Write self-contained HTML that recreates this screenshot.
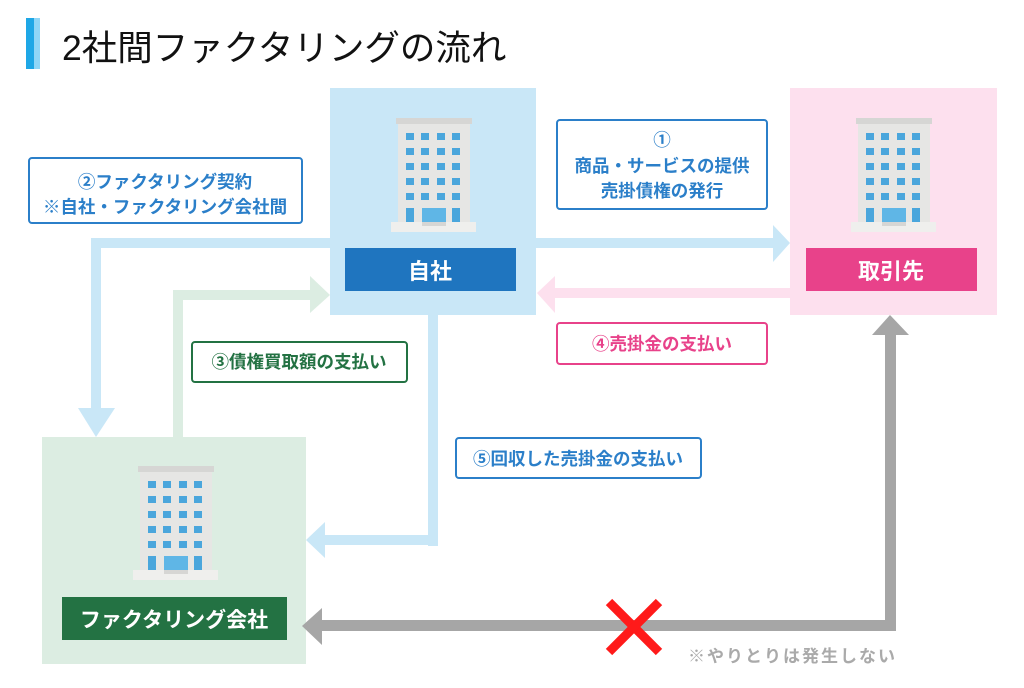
<!DOCTYPE html>
<html><head><meta charset="utf-8"><style>
html,body{margin:0;padding:0;background:#fff;}
svg text{font-family:"Liberation Sans","Noto Sans CJK JP",sans-serif;font-weight:bold;}
</style></head><body>
<svg width="1024" height="683" viewBox="0 0 1024 683" xmlns="http://www.w3.org/2000/svg">
<defs>
<g id="bld">
 <rect x="5" y="0" width="76" height="6" fill="#d6d6d4"/>
 <rect x="7" y="6" width="72" height="102" fill="#e6e6e4"/>
 <rect x="0" y="104" width="85" height="10" fill="#efefed"/>
 <g fill="#4aa6dc">
  <rect x="15" y="15" width="8" height="7"/><rect x="30" y="15" width="8" height="7"/><rect x="46" y="15" width="8" height="7"/><rect x="61" y="15" width="8" height="7"/>
  <rect x="15" y="30" width="8" height="7"/><rect x="30" y="30" width="8" height="7"/><rect x="46" y="30" width="8" height="7"/><rect x="61" y="30" width="8" height="7"/>
  <rect x="15" y="45" width="8" height="7"/><rect x="30" y="45" width="8" height="7"/><rect x="46" y="45" width="8" height="7"/><rect x="61" y="45" width="8" height="7"/>
  <rect x="15" y="60" width="8" height="7"/><rect x="30" y="60" width="8" height="7"/><rect x="46" y="60" width="8" height="7"/><rect x="61" y="60" width="8" height="7"/>
  <rect x="15" y="75" width="8" height="7"/><rect x="30" y="75" width="8" height="7"/><rect x="46" y="75" width="8" height="7"/><rect x="61" y="75" width="8" height="7"/>
  <rect x="15" y="90" width="8" height="14"/><rect x="61" y="90" width="8" height="14"/>
  <rect x="31" y="90" width="24" height="14" fill="#5fb6e6"/>
 </g>
 <rect x="31" y="104" width="24" height="4" fill="#d6d6d4"/>
</g>
</defs>

<rect x="26" y="18" width="8" height="51" fill="#1ea7e6"/>
<rect x="34" y="18" width="6" height="51" fill="#8fd6f7"/>
<text x="62" y="60" font-size="35.5" style="font-weight:normal" fill="#111">2社間ファクタリングの流れ</text>

<rect x="330" y="88" width="206" height="227" fill="#c9e7f7"/>
<rect x="790" y="88" width="207" height="227" fill="#fde0ee"/>
<rect x="42" y="437" width="264" height="227" fill="#dcede2"/>

<rect x="91" y="238" width="239" height="10" fill="#c9e7f7"/>
<rect x="91" y="238" width="10" height="172" fill="#c9e7f7"/>
<polygon points="78,408 115,408 96,437" fill="#c9e7f7"/>
<rect x="536" y="238" width="240" height="10" fill="#c9e7f7"/>
<polygon points="773,225 790,243 773,262" fill="#c9e7f7"/>
<rect x="173" y="290" width="10" height="147" fill="#dcede2"/>
<rect x="173" y="290" width="140" height="10" fill="#dcede2"/>
<polygon points="310,276 330,295 310,313" fill="#dcede2"/>
<rect x="553" y="288" width="237" height="10" fill="#fde0ee"/>
<polygon points="555,276 537,293 555,313" fill="#fde0ee"/>
<rect x="428" y="315" width="10" height="231" fill="#c9e7f7"/>
<rect x="322" y="535" width="116" height="10" fill="#c9e7f7"/>
<polygon points="325,522 306,540 325,558" fill="#c9e7f7"/>
<rect x="885" y="333" width="11" height="298" fill="#a6a6a6"/>
<rect x="320" y="620" width="576" height="11" fill="#a6a6a6"/>
<polygon points="872,335 909,335 890,315" fill="#a6a6a6"/>
<polygon points="322,608 302,626 322,645" fill="#a6a6a6"/>
<g stroke="#ff1a1a" stroke-width="9">
<line x1="609" y1="602" x2="659" y2="652"/><line x1="659" y1="602" x2="609" y2="652"/>
</g>
<text x="688" y="662" font-size="17" letter-spacing="2" fill="#aaaaaa">※やりとりは発生しない</text>

<use href="#bld" x="391" y="118"/>
<use href="#bld" x="851" y="118"/>
<use href="#bld" x="133" y="466"/>

<rect x="345" y="248" width="171" height="43" fill="#1f75bf"/>
<text x="430" y="279" font-size="22" fill="#fff" text-anchor="middle">自社</text>
<rect x="806" y="248" width="171" height="43" fill="#e8428a"/>
<text x="891" y="279" font-size="22" fill="#fff" text-anchor="middle">取引先</text>
<rect x="62" y="597" width="225" height="43" fill="#237243"/>
<text x="174" y="627" font-size="21" fill="#fff" text-anchor="middle">ファクタリング会社</text>

<rect x="29" y="158" width="273" height="65" rx="3" fill="#fff" stroke="#2b7fc9" stroke-width="2"/>
<text x="165" y="188" font-size="17.5" fill="#2b7fc9" text-anchor="middle">②ファクタリング契約</text>
<text x="165" y="213" font-size="17.5" fill="#2b7fc9" text-anchor="middle">※自社・ファクタリング会社間</text>

<rect x="557" y="120" width="210" height="89" rx="3" fill="#fff" stroke="#2b7fc9" stroke-width="2"/>
<text x="662" y="146" font-size="17.5" fill="#2b7fc9" text-anchor="middle">①</text>
<text x="662" y="172" font-size="17.5" fill="#2b7fc9" text-anchor="middle">商品・サービスの提供</text>
<text x="662" y="197" font-size="17.5" fill="#2b7fc9" text-anchor="middle">売掛債権の発行</text>

<rect x="192" y="342" width="215" height="40" rx="3" fill="#fff" stroke="#237243" stroke-width="2"/>
<text x="299" y="368" font-size="17.5" fill="#237243" text-anchor="middle">③債権買取額の支払い</text>

<rect x="557" y="323" width="210" height="41" rx="3" fill="#fff" stroke="#e8428a" stroke-width="2"/>
<text x="662" y="350" font-size="17.5" fill="#e8428a" text-anchor="middle">④売掛金の支払い</text>

<rect x="456" y="438" width="245" height="40" rx="3" fill="#fff" stroke="#2b7fc9" stroke-width="2"/>
<text x="578" y="465" font-size="17.5" fill="#2b7fc9" text-anchor="middle">⑤回収した売掛金の支払い</text>
</svg>
</body></html>
